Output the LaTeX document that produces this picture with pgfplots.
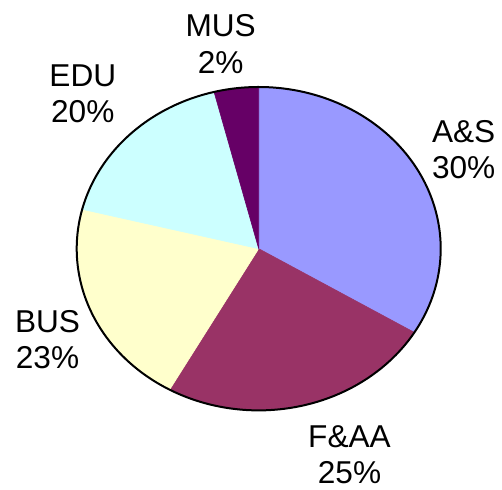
\documentclass[border=0pt]{standalone}
\usepackage{fontspec}
\setmainfont{Liberation Sans}
\usepackage{pgfplots}
\pgfplotsset{compat=1.18}
\definecolor{cAS}{HTML}{9999FF}
\definecolor{cFAA}{HTML}{993366}
\definecolor{cBUS}{HTML}{FFFFCC}
\definecolor{cEDU}{HTML}{CCFFFF}
\definecolor{cMUS}{HTML}{660066}
\tikzset{lbl/.style={font=\fontsize{15.8}{18}\selectfont, inner sep=0pt, anchor=base}}
% slice boundaries (degrees, counter-clockwise)
% A&S: -31.2..90, F&AA: -119.3..-31.2, BUS: -194.1..-119.3, EDU: -255.8..-194.1, MUS: -270..-255.8
\begin{document}
\begin{tikzpicture}
\useasboundingbox (0,0) rectangle (251pt,245pt);
\begin{axis}[
  at={(0,0)}, anchor=south west,
  scale only axis, width=251pt, height=245pt,
  xmin=0, xmax=502, ymin=0, ymax=490,
  hide axis, clip=false,
]
\addplot[fill=cAS, draw=cAS, line width=0.3pt, domain=-31.2:90, samples=120]
  ({258.7+182*cos(x)}, {241.3+161.7*sin(x)}) -- (axis cs:258.7,241.3) -- cycle;
\addplot[fill=cFAA, draw=cFAA, line width=0.3pt, domain=-119.3:-31.2, samples=100]
  ({258.7+182*cos(x)}, {241.3+161.7*sin(x)}) -- (axis cs:258.7,241.3) -- cycle;
\addplot[fill=cBUS, draw=cBUS, line width=0.3pt, domain=-194.1:-119.3, samples=100]
  ({258.7+182*cos(x)}, {241.3+161.7*sin(x)}) -- (axis cs:258.7,241.3) -- cycle;
\addplot[fill=cEDU, draw=cEDU, line width=0.3pt, domain=-255.8:-194.1, samples=100]
  ({258.7+182*cos(x)}, {241.3+161.7*sin(x)}) -- (axis cs:258.7,241.3) -- cycle;
\addplot[fill=cMUS, draw=cMUS, line width=0.3pt, domain=-270:-255.8, samples=40]
  ({258.7+182*cos(x)}, {241.3+161.7*sin(x)}) -- (axis cs:258.7,241.3) -- cycle;
\addplot[draw=black, line width=1pt, domain=0:360, samples=300]
  ({258.7+182*cos(x)}, {241.3+161.7*sin(x)});
% labels (x centre, baseline)
\node[lbl] at (axis cs:220.7,453.3) {MUS};
\node[lbl] at (axis cs:220.7,416) {2\%};
\node[lbl] at (axis cs:82.8,403.3) {EDU};
\node[lbl] at (axis cs:82.8,367.3) {20\%};
\node[lbl] at (axis cs:463.7,347.7) {A\&S};
\node[lbl] at (axis cs:463.7,311.7) {30\%};
\node[lbl] at (axis cs:47.5,157.7) {BUS};
\node[lbl] at (axis cs:47.5,121) {23\%};
\node[lbl] at (axis cs:349.5,42.7) {F\&AA};
\node[lbl] at (axis cs:349.5,6) {25\%};
\end{axis}
\end{tikzpicture}
\end{document}
